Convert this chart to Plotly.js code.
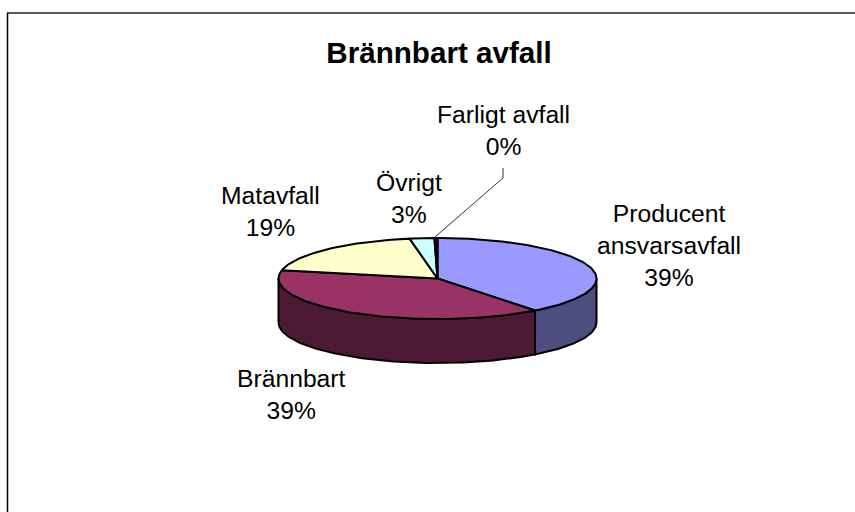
<!DOCTYPE html>
<html><head><meta charset="utf-8">
<script src="https://cdn.plot.ly/plotly-3.0.1.min.js"></script>
<style>html,body{margin:0;padding:0;background:#fff}#c{width:855px;height:512px}</style>
</head><body><div id="c"></div>
<script>
const categories = ["Producent ansvarsavfall", "Brännbart", "Matavfall", "Övrigt", "Farligt avfall"];
const values = [39.49, 38.8, 18.9, 2.5, 0.31];
const topColors = ["#9999FF", "#993366", "#FFFFCC", "#CCFFFF", "#660066"];
const wallColors = ["#4D4D80", "#4D1A33", "#80805F", "#668080", "#330033"];
const labelLines = [["Producent", "ansvarsavfall"], ["Brännbart"], ["Matavfall"], ["Övrigt"], ["Farligt avfall"]];
const labelAnchors = [[669, 245.5], [291, 394], [270.5, 211], [408.5, 198.5], [503, 130]];

const CX = 437.5, CY = 278.5, RX = 159, RY = 40.5, DEPTH = 44;
const total = values.reduce((a, b) => a + b, 0);
const px = a => CX + RX * Math.sin(a);
const py = a => CY - RY * Math.cos(a);
function arc(a0, a1) {
  const n = Math.max(2, Math.ceil(Math.abs(a1 - a0) / 0.02));
  const out = [];
  for (let i = 0; i <= n; i++) out.push(a0 + (a1 - a0) * i / n);
  return out;
}
const traces = [];
const edge = {color: "#000", width: 2};
let start = 0;
const slices = values.map(v => { const s = start; start += v / total * 2 * Math.PI; return [s, start]; });
slices.forEach(([a0, a1], i) => {
  const lo = Math.max(a0, Math.PI / 2), hi = Math.min(a1, 3 * Math.PI / 2);
  if (hi <= lo) return;
  const t = arc(lo, hi), b = arc(hi, lo);
  const xs = t.map(px).concat(b.map(px)), ys = t.map(py).concat(b.map(a => py(a) + DEPTH));
  xs.push(xs[0]); ys.push(ys[0]);
  traces.push({x: xs, y: ys, mode: "lines", fill: "toself", fillcolor: wallColors[i], line: edge, name: categories[i], hoverinfo: "skip"});
});
slices.forEach(([a0, a1], i) => {
  const t = arc(a0, a1);
  const xs = [CX].concat(t.map(px), [CX]), ys = [CY].concat(t.map(py), [CY]);
  traces.push({x: xs, y: ys, mode: "lines", fill: "toself", fillcolor: topColors[i], line: edge, name: categories[i], hoverinfo: "skip"});
});
// leader line for the smallest slice
const leaderX = [435, 503, 503], leaderY = [237, 178, 168];
traces.push({x: leaderX, y: leaderY, mode: "lines", line: {color: "#000", width: 0.8}, hoverinfo: "skip"});

const font = {family: "Liberation Sans, Arial, sans-serif", size: 24.7, color: "#000"};
const annotations = categories.map((c, i) => ({
  x: labelAnchors[i][0], y: labelAnchors[i][1], xref: "x", yref: "y", xanchor: "center", yanchor: "middle",
  showarrow: false, align: "center", font,
  text: labelLines[i].concat([Math.round(values[i]) + "%"]).join("<br>")
}));
const layout = {
  width: 855, height: 512, margin: {l: 0, r: 0, t: 0, b: 0}, showlegend: false,
  paper_bgcolor: "#fff", plot_bgcolor: "#fff",
  title: {text: "<b>Brännbart avfall</b>", x: 439 / 855, xanchor: "center", y: 1 - 53 / 512, yanchor: "middle",
          font: {family: "Liberation Sans, Arial, sans-serif", size: 29.6, color: "#000"}},
  xaxis: {range: [0, 855], visible: false, fixedrange: true},
  yaxis: {range: [512, 0], visible: false, fixedrange: true},
  annotations,
  shapes: [
    {type: "line", xref: "x", yref: "y", x0: 7, x1: 855, y0: 13, y1: 13, line: {color: "#222", width: 1.7}},
    {type: "line", xref: "x", yref: "y", x0: 7.5, x1: 7.5, y0: 13, y1: 512, line: {color: "#000", width: 1.5}}
  ]
};
Plotly.newPlot("c", traces, layout, {displayModeBar: false, staticPlot: true});
</script></body></html>
